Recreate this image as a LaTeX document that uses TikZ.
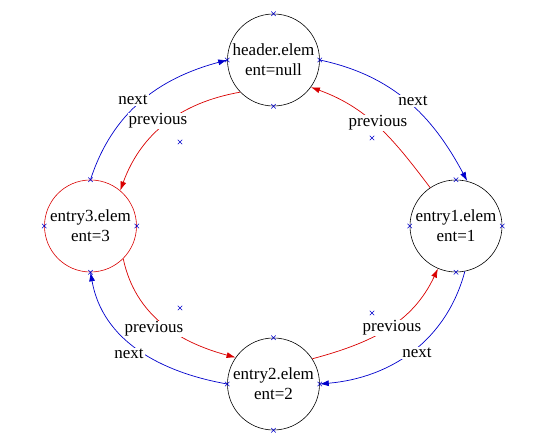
\documentclass[tikz,border=0pt]{standalone}
\usepackage{fontspec}
\setmainfont{Liberation Serif}
\usetikzlibrary{arrows.meta, shapes.misc}

\begin{document}
\begin{tikzpicture}[x=1pt, y=1pt,
    elem/.style={circle, draw, line width=0.6pt, minimum size=92pt, inner sep=0pt,
      align=center, font=\fontsize{17}{20}\selectfont},
    xcross/.style={cross out, draw=blue!80!black, line width=0.5pt, minimum size=4pt, inner sep=0pt},
    nextarr/.style={draw=blue!80!black, line width=0.7pt, -{Latex[length=9pt,width=6pt]}},
    prevarr/.style={draw=red!85!black, line width=0.7pt, -{Latex[length=9pt,width=6pt]}},
    lbl/.style={fill=white, inner sep=1pt, font=\fontsize{17}{20}\selectfont}]
    \useasboundingbox (0,0) rectangle (560,444);
    % the four elements
    \node[elem] (hdr) at (273.5,384) {header.elem\\ent=null};
    \node[elem, draw=red!85!black] (e3) at (90.5,218) {entry3.elem\\ent=3};
    \node[elem] (e1) at (456,218) {entry1.elem\\ent=1};
    \node[elem] (e2) at (273.5,60) {entry2.elem\\ent=2};
    % next / previous links
    \draw[nextarr] (e3.north) to[out=72, in=195] (hdr.west);
    \draw[prevarr] (hdr.224) to[out=190, in=70] (e3.50);
    \draw[nextarr] (hdr.east) to[out=-12, in=118] (e1.76);
    \draw[prevarr] (e1.124) to[out=127, in=-20] (hdr.324);
    \draw[prevarr] (e3.315) to[out=-78, in=165] (e2.145);
    \draw[nextarr] (e2.west) to[out=170, in=-80] (e3.south);
    \draw[prevarr] (e2.33) to[out=15, in=-115] (e1.247);
    \draw[nextarr] (e1.281) to[out=255, in=5] (e2.east);
    % labels
    \node[lbl] (n1) at (133,344) {next};
    \node[lbl] (p1) at (158,323) {previous};
    \node[lbl] (n2) at (413,343) {next};
    \node[lbl] (p2) at (378,321) {previous};
    \node[lbl] (p3) at (154,115) {previous};
    \node[lbl] (n3) at (129,90) {next};
    \node[lbl] (p4) at (392,116) {previous};
    \node[lbl] (n4) at (417,91) {next};
    % markers
    \foreach \n in {hdr, e1, e2, e3}
      \foreach \a in {north, south, east, west}
        \node[xcross] at (\n.\a) {};
    \node[xcross] (c1) at (180,302) {};
    \node[xcross] (c2) at (372,306) {};
    \node[xcross] (c3) at (180,136) {};
    \node[xcross] (c4) at (372,131) {};
\end{tikzpicture}
\end{document}
